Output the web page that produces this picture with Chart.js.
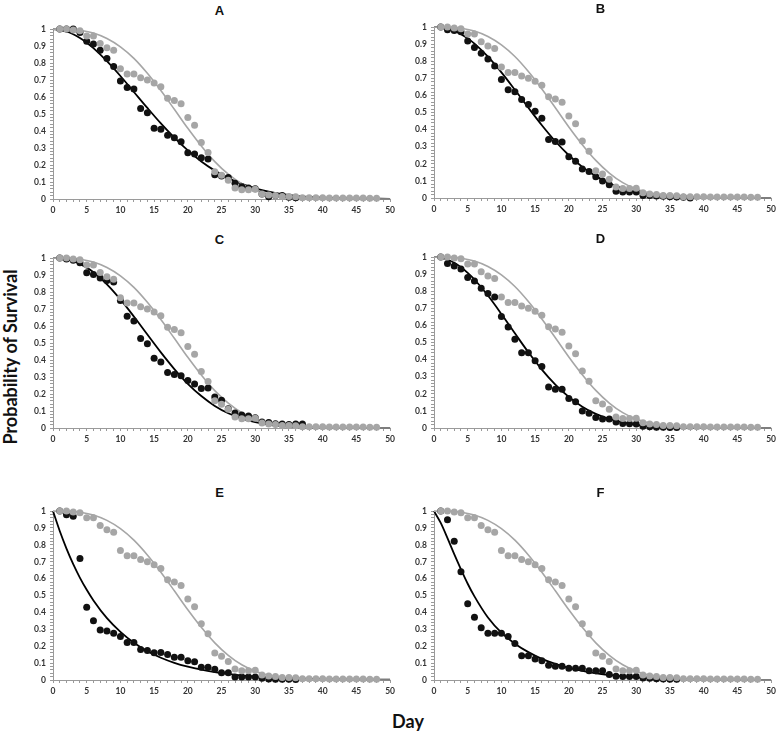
<!DOCTYPE html>
<html>
<head>
<meta charset="utf-8">
<script src="https://cdn.jsdelivr.net/npm/chart.js@4.4.0/dist/chart.umd.min.js"></script>
<style>
    body { margin: 0; background: #fff; width: 779px; height: 735px; position: relative; overflow: hidden; }
    .panel { position: absolute; }
    .letter { position: absolute; transform: translate(-50%, -50%); font: bold 13px "Liberation Sans", Arial, sans-serif; color: #111; }
    #ylab { position: absolute; left: 10px; top: 357px; transform: translate(-50%, -50%) rotate(-90deg); font: bold 18px Lato, sans-serif; color: #111; white-space: nowrap; }
    #xlab { position: absolute; left: 408px; top: 721px; transform: translate(-50%, -50%); font: bold 18px Lato, sans-serif; color: #111; }
</style>
</head>
<body>
<div id="ylab">Probability of Survival</div>
<div id="xlab">Day</div>
<script>
// dias observados (1..48) y dias de la curva ajustada
const obsDays = [1,2,3,4,5,6,7,8,9,10,11,12,13,14,15,16,17,18,19,20,21,22,23,24,25,26,27,28,29,30,31,32,33,34,35,36,37,38,39,40,41,42,43,44,45,46,47,48];
const fitDays = [0,1,2,3,4,5,6,8,10,12,14,16,18,20,22,24,26,28,30,32,34,36,38,40,45,50];

// control (gris), igual en los 6 paneles
const grayObs = [1.0,1.0,0.995,0.99,0.96,0.96,0.915,0.89,0.875,0.766,0.735,0.735,0.714,0.70,0.683,0.66,0.593,0.58,0.56,0.48,0.434,0.333,0.274,0.16,0.14,0.11,0.065,0.055,0.055,0.057,0.03,0.023,0.02,0.015,0.015,0.013,0.007,0.007,0.007,0.007,0.006,0.006,0.006,0.006,0.006,0.006,0.005,0.004];
const grayFit = [1,1.0,0.999,0.997,0.993,0.986,0.977,0.945,0.896,0.828,0.740,0.638,0.528,0.416,0.312,0.220,0.146,0.090,0.052,0.028,0.0135,0.006,0.0025,0.001,0,0];

// tratamiento (negro) por panel
const blackObsA = [1.0,1.0,1.0,0.98,0.928,0.912,0.875,0.827,0.78,0.695,0.656,0.648,0.533,0.508,0.416,0.41,0.375,0.36,0.337,0.272,0.265,0.243,0.235,0.142,0.135,0.126,0.093,0.072,0.065,0.06,0.03,0.013,0.02,0.021,0.01,0.008];
const blackObsB = [1.0,0.984,0.98,0.973,0.918,0.88,0.847,0.814,0.773,0.694,0.634,0.622,0.576,0.547,0.508,0.467,0.343,0.33,0.328,0.242,0.215,0.17,0.155,0.124,0.099,0.078,0.04,0.035,0.035,0.035,0.015,0.015,0.012,0.01,0.008,0.006,0.004,0.0];
const blackObsC = [1.0,0.995,0.988,0.973,0.914,0.903,0.883,0.868,0.86,0.751,0.658,0.63,0.527,0.496,0.41,0.389,0.327,0.315,0.307,0.28,0.259,0.233,0.235,0.183,0.163,0.113,0.088,0.076,0.07,0.06,0.035,0.033,0.025,0.023,0.021,0.023,0.023];
const blackObsD = [1.0,0.963,0.948,0.93,0.88,0.86,0.817,0.787,0.766,0.653,0.591,0.519,0.44,0.44,0.393,0.36,0.24,0.227,0.227,0.172,0.153,0.10,0.087,0.062,0.052,0.052,0.035,0.027,0.025,0.023,0.01,0.008,0.004,0.004,0.003,0.003];
const blackObsE = [1.0,0.978,0.97,0.72,0.431,0.351,0.296,0.29,0.277,0.257,0.222,0.222,0.18,0.175,0.161,0.163,0.151,0.135,0.135,0.114,0.108,0.075,0.075,0.063,0.043,0.043,0.018,0.018,0.018,0.018,0.01,0.006,0.005,0.005,0.005,0.003];
const blackObsF = [1.0,0.949,0.822,0.641,0.451,0.371,0.31,0.277,0.277,0.277,0.257,0.216,0.143,0.143,0.124,0.114,0.088,0.082,0.082,0.069,0.069,0.069,0.055,0.055,0.055,0.033,0.022,0.02,0.02,0.02,0.012,0.01,0.008,0.006,0.005,0.004];

const blackFitA = [1,0.996,0.986,0.970,0.947,0.920,0.888,0.811,0.724,0.630,0.536,0.445,0.361,0.286,0.221,0.167,0.123,0.089,0.063,0.043,0.029,0.019,0.012,0.008,0.003,0.001];
const blackFitB = [1,0.998,0.991,0.978,0.959,0.934,0.903,0.827,0.735,0.633,0.528,0.426,0.332,0.25,0.182,0.128,0.0865,0.0564,0.035,0.0215,0.0125,0.007,0.0038,0.002,0.0005,0];
const blackFitC = [1,0.998,0.993,0.982,0.966,0.944,0.917,0.846,0.757,0.656,0.550,0.445,0.347,0.26,0.188,0.130,0.0866,0.0553,0.034,0.0197,0.011,0.006,0.003,0.0015,0.0003,0];
const blackFitD = [1,0.997,0.986,0.967,0.941,0.908,0.869,0.775,0.667,0.554,0.443,0.342,0.254,0.182,0.125,0.083,0.053,0.0325,0.019,0.011,0.006,0.003,0.0016,0.0008,0.0002,0];
const blackFitE = [1,0.882,0.778,0.686,0.605,0.534,0.471,0.366,0.285,0.221,0.171,0.132,0.102,0.079,0.061,0.047,0.036,0.027,0.021,0.016,0.012,0.009,0.007,0.005,0.003,0.0015];
const blackFitF = [1,0.93,0.84,0.745,0.655,0.57,0.495,0.37,0.28,0.215,0.165,0.125,0.095,0.072,0.054,0.04,0.03,0.022,0.016,0.012,0.008,0.006,0.004,0.003,0.0015,0.0007];

const panelLetters = ['A','B','C','D','E','F'];

const GRAY = '#a6a6a6';
const AXIS = '#9a9a9a';

// juntar x,y en puntos
function pts(xs, ys) {
    return ys.map((y, i) => ({ x: xs[i], y: y }));
}

// donde va cada panel (area de la grafica en px)
const layout = [
    { left: 0,   top: 27.7, bottom: 199, black: blackObsA, fit: blackFitA },
    { left: 381, top: 26,   bottom: 198, black: blackObsB, fit: blackFitB },
    { left: 0,   top: 256.7, bottom: 428, black: blackObsC, fit: blackFitC },
    { left: 381, top: 256,  bottom: 428, black: blackObsD, fit: blackFitD },
    { left: 0,   top: 510,  bottom: 680, black: blackObsE, fit: blackFitE },
    { left: 381, top: 510,  bottom: 680, black: blackObsF, fit: blackFitF }
];

const PAD_TOP = 8, X_H = 18, Y_W = 53, PAD_R = 6, W = 398;

function createPanel(cfg, letter) {
    const h = Math.round(cfg.bottom - cfg.top + PAD_TOP + X_H);
    const div = document.createElement('div');
    div.className = 'panel';
    div.style.left = cfg.left + 'px';
    div.style.top = (cfg.top - PAD_TOP) + 'px';
    const canvas = document.createElement('canvas');
    canvas.width = W;
    canvas.height = h;
    div.appendChild(canvas);
    document.body.appendChild(div);

    // letra del panel centrada sobre el area
    const t = document.createElement('div');
    t.className = 'letter';
    t.textContent = letter;
    t.style.left = (cfg.left + Y_W + (W - Y_W - PAD_R) / 2 - 3) + 'px';
    t.style.top = (cfg.top - 18) + 'px';
    document.body.appendChild(t);

    const tickFont = { family: 'Lato, sans-serif', size: 8.5, weight: 'bold' };

    new Chart(canvas, {
        type: 'scatter',
        data: {
            datasets: [
                { data: pts(obsDays, grayObs), pointRadius: 3.5, pointBackgroundColor: GRAY, pointBorderWidth: 0, showLine: false, clip: false, order: 0 },
                { data: pts(obsDays, cfg.black), pointRadius: 3.5, pointBackgroundColor: '#111', pointBorderWidth: 0, showLine: false, clip: false, order: 1 },
                { data: pts(fitDays, grayFit), showLine: true, pointRadius: 0, borderColor: GRAY, borderWidth: 1.6, cubicInterpolationMode: 'monotone', clip: false, order: 2 },
                { data: pts(fitDays, cfg.fit), showLine: true, pointRadius: 0, borderColor: '#000', borderWidth: 1.8, cubicInterpolationMode: 'monotone', clip: false, order: 3 }
            ]
        },
        options: {
            responsive: false,
            devicePixelRatio: 1,
            animation: false,
            layout: { padding: { top: PAD_TOP, right: PAD_R, left: 0, bottom: 0 } },
            plugins: { legend: { display: false }, tooltip: { enabled: false } },
            scales: {
                x: {
                    type: 'linear', min: 0, max: 50,
                    afterFit: s => { s.height = X_H; },
                    grid: { drawOnChartArea: false, tickLength: 3, color: AXIS },
                    border: { color: AXIS },
                    ticks: {
                        stepSize: 1, autoSkip: false, maxRotation: 0, minRotation: 0, padding: 3,
                        color: '#333', font: tickFont,
                        callback: v => (v % 5 === 0 ? String(v) : '')
                    }
                },
                y: {
                    min: 0, max: 1,
                    afterFit: s => { s.width = Y_W; },
                    grid: { drawOnChartArea: false, tickLength: 3, color: AXIS },
                    border: { color: AXIS },
                    ticks: {
                        stepSize: 0.02, autoSkip: false, padding: 4,
                        color: '#333', font: tickFont,
                        callback: v => (Math.round(v * 100) % 10 === 0 ? String(Math.round(v * 10) / 10) : '')
                    }
                }
            }
        }
    });
}

layout.forEach((cfg, i) => createPanel(cfg, panelLetters[i]));
</script>
</body>
</html>
